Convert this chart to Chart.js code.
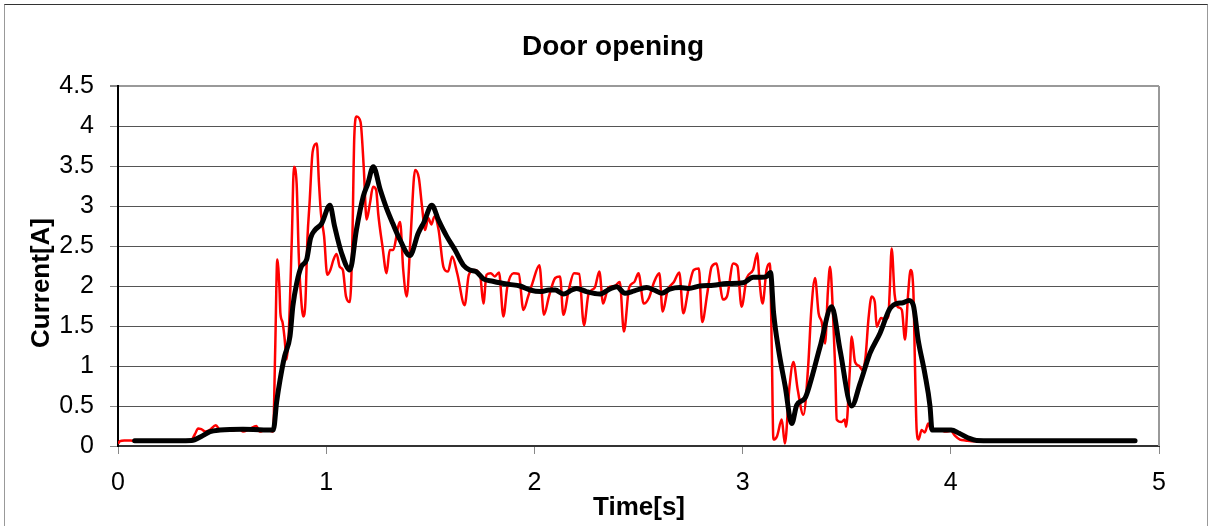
<!DOCTYPE html>
<html>
<head>
<meta charset="utf-8">
<title>Door opening</title>
<script src="https://cdn.jsdelivr.net/npm/chart.js@4.4.1/dist/chart.umd.min.js"></script>
<style>
    html, body { margin: 0; padding: 0; background: #fff; }
    body { width: 1210px; height: 526px; overflow: hidden; position: relative; }
    #moldura { position: absolute; left: 4px; top: 4px; width: 1202px; height: 560px; border: 1px solid #999; border-top-color: #333; }
    #wrap { position: absolute; left: 0; top: 0; width: 1210px; height: 526px; }
</style>
</head>
<body>
<div id="moldura"></div>
<div id="wrap"><canvas id="grafico" width="1210" height="526"></canvas></div>
<script>
// textos
const titulo = 'Door opening';
const tituloX = 'Time[s]';
const tituloY = 'Current[A]';

// sinal bruto (vermelho)
const redTime = [
    0.00, 0.01, 0.03, 0.06, 0.08, 0.15, 0.25, 0.35, 0.37, 0.385, 0.40, 0.42, 0.44, 0.47, 0.49, 0.52, 0.55, 0.58, 0.60, 0.63,
    0.665, 0.68, 0.71, 0.73, 0.745, 0.755, 0.765, 0.775, 0.78, 0.79, 0.80, 0.81, 0.82, 0.835, 0.845, 0.858, 0.868, 0.878, 0.89, 0.90,
    0.91, 0.92, 0.935, 0.955, 0.965, 0.975, 0.99, 1.005, 1.02, 1.035, 1.05, 1.065, 1.08, 1.095, 1.114, 1.125, 1.135, 1.146, 1.165, 1.18,
    1.194, 1.21, 1.225, 1.24, 1.25, 1.27, 1.29, 1.305, 1.32, 1.355, 1.37, 1.387, 1.405, 1.427, 1.445, 1.46, 1.475, 1.49, 1.505, 1.52,
    1.54, 1.563, 1.585, 1.605, 1.63, 1.665, 1.685, 1.71, 1.74, 1.755, 1.77, 1.79, 1.81, 1.83, 1.851, 1.87, 1.90, 1.925, 1.947, 1.97,
    1.99, 2.024, 2.046, 2.07, 2.10, 2.123, 2.139, 2.165, 2.19, 2.215, 2.238, 2.26, 2.29, 2.312, 2.33, 2.355, 2.385, 2.41, 2.43, 2.455,
    2.48, 2.50, 2.525, 2.55, 2.575, 2.60, 2.616, 2.64, 2.67, 2.696, 2.715, 2.74, 2.765, 2.79, 2.806, 2.83, 2.851, 2.875, 2.89, 2.905,
    2.925, 2.955, 2.975, 2.995, 3.02, 3.05, 3.071, 3.08, 3.096, 3.115, 3.131, 3.14, 3.148, 3.165, 3.188, 3.203, 3.225, 3.244, 3.265, 3.292,
    3.315, 3.33, 3.348, 3.365, 3.38, 3.396, 3.41, 3.42, 3.435, 3.445, 3.452, 3.475, 3.49, 3.497, 3.515, 3.524, 3.54, 3.56, 3.575, 3.59,
    3.605, 3.62, 3.635, 3.644, 3.665, 3.685, 3.70, 3.706, 3.716, 3.73, 3.745, 3.765, 3.78, 3.795, 3.807, 3.82, 3.828, 3.836, 3.845, 3.86,
    3.875, 3.892, 3.905, 3.925, 3.95, 3.975, 4.00, 4.02, 4.044, 4.07, 4.10, 4.30, 4.50, 4.70, 4.88
];
const redCurrent = [
    0.03, 0.06, 0.07, 0.07, 0.06, 0.06, 0.06, 0.07, 0.15, 0.22, 0.21, 0.18, 0.20, 0.26, 0.20, 0.21, 0.19, 0.22, 0.18, 0.21,
    0.25, 0.18, 0.20, 0.19, 0.18, 1.20, 2.33, 2.00, 1.66, 1.55, 1.35, 1.08, 1.40, 2.60, 3.49, 3.28, 2.40, 1.90, 1.62, 1.79,
    2.60, 3.03, 3.68, 3.78, 3.30, 2.90, 2.62, 2.14, 2.20, 2.33, 2.40, 2.24, 2.20, 1.87, 1.80, 2.50, 3.87, 4.12, 4.05, 3.50,
    2.83, 3.03, 3.24, 3.20, 2.90, 2.50, 2.16, 2.45, 2.45, 2.80, 2.20, 1.87, 2.60, 3.45, 3.35, 3.00, 2.70, 2.85, 2.77, 2.87,
    2.70, 2.24, 2.18, 2.37, 2.15, 1.76, 2.14, 2.20, 2.12, 1.78, 2.14, 2.16, 2.12, 2.17, 1.62, 1.99, 2.16, 2.15, 1.70, 1.87,
    2.03, 2.26, 1.64, 1.87, 2.10, 2.12, 1.64, 1.95, 2.16, 2.15, 1.51, 1.90, 1.98, 2.18, 1.78, 1.98, 2.00, 2.05, 1.43, 1.98,
    2.05, 2.16, 1.78, 1.85, 2.05, 2.16, 1.68, 1.95, 2.05, 2.17, 1.66, 1.96, 2.20, 2.22, 1.55, 1.90, 2.24, 2.28, 2.05, 1.83,
    1.87, 2.28, 2.25, 1.74, 2.10, 2.20, 2.41, 2.10, 1.78, 2.20, 2.28, 1.24, 0.08, 0.12, 0.33, 0.03, 0.74, 1.05, 0.70, 0.39,
    1.00, 1.70, 2.10, 1.66, 1.55, 1.28, 1.95, 2.24, 1.60, 0.95, 0.33, 0.30, 0.33, 0.24, 0.95, 1.37, 1.05, 1.00, 0.95, 1.10,
    1.60, 1.87, 1.80, 1.49, 1.60, 1.58, 1.62, 1.90, 2.47, 1.90, 1.74, 1.70, 1.33, 1.90, 2.20, 1.95, 1.00, 0.20, 0.08, 0.20,
    0.17, 0.28, 0.20, 0.19, 0.20, 0.18, 0.19, 0.13, 0.08, 0.07, 0.06, 0.06, 0.06, 0.06, 0.06
];

// sinal filtrado (preto)
const blackTime = [
    0.08, 0.20, 0.354, 0.40, 0.442, 0.49, 0.60, 0.70, 0.746, 0.762, 0.778, 0.80, 0.826, 0.84, 0.858, 0.88, 0.906, 0.925, 0.946, 0.978,
    1.018, 1.04, 1.074, 1.114, 1.145, 1.178, 1.20, 1.226, 1.26, 1.29, 1.32, 1.354, 1.402, 1.442, 1.47, 1.507, 1.54, 1.579, 1.619, 1.659,
    1.69, 1.72, 1.755, 1.80, 1.835, 1.88, 1.931, 1.979, 2.03, 2.07, 2.10, 2.139, 2.18, 2.203, 2.25, 2.315, 2.36, 2.395, 2.435, 2.48,
    2.539, 2.575, 2.611, 2.65, 2.699, 2.74, 2.795, 2.86, 2.923, 3.003, 3.051, 3.09, 3.115, 3.134, 3.149, 3.173, 3.205, 3.236, 3.26, 3.30,
    3.324, 3.372, 3.428, 3.468, 3.524, 3.564, 3.612, 3.66, 3.708, 3.74, 3.77, 3.799, 3.82, 3.843, 3.875, 3.90, 3.91, 3.95, 4.002, 4.04,
    4.084, 4.124, 4.30, 4.50, 4.70, 4.885
];
const blackCurrent = [
    0.065, 0.065, 0.07, 0.12, 0.18, 0.20, 0.21, 0.20, 0.20, 0.55, 0.82, 1.12, 1.37, 1.75, 2.03, 2.24, 2.33, 2.60, 2.70, 2.78,
    3.01, 2.75, 2.41, 2.20, 2.70, 3.12, 3.28, 3.49, 3.20, 2.97, 2.78, 2.58, 2.38, 2.66, 2.80, 3.01, 2.82, 2.62, 2.45, 2.26,
    2.20, 2.18, 2.09, 2.06, 2.04, 2.02, 2.00, 1.95, 1.93, 1.95, 1.95, 1.90, 1.95, 1.97, 1.93, 1.90, 1.96, 1.99, 1.91, 1.94,
    1.98, 1.95, 1.91, 1.96, 1.98, 1.97, 2.00, 2.01, 2.03, 2.04, 2.11, 2.11, 2.12, 2.17, 1.66, 1.20, 0.74, 0.28, 0.51, 0.60,
    0.78, 1.24, 1.74, 1.20, 0.50, 0.78, 1.16, 1.41, 1.72, 1.78, 1.79, 1.82, 1.76, 1.33, 0.91, 0.50, 0.20, 0.20, 0.20, 0.16,
    0.10, 0.07, 0.065, 0.065, 0.065, 0.065
];

const fonte = '"Liberation Sans", Arial, sans-serif';

function pontos(xs, ys) {
    return xs.map((x, i) => ({ x: x, y: ys[i] }));
}

// titulos desenhados a mao + borda direita da area do grafico
const extras = {
    id: 'extras',
    beforeDatasetsDraw(chart) {
        const { ctx, chartArea: a } = chart;
        ctx.save();
        ctx.strokeStyle = '#999';
        ctx.lineWidth = 2;
        ctx.beginPath();
        ctx.moveTo(a.right, a.top);
        ctx.lineTo(a.right, a.bottom);
        ctx.stroke();
        ctx.restore();
    },
    afterDraw(chart) {
        const ctx = chart.ctx;
        ctx.save();
        ctx.fillStyle = '#000';
        ctx.textAlign = 'center';
        ctx.textBaseline = 'alphabetic';
        ctx.font = 'bold 28px ' + fonte;
        ctx.fillText(titulo, 613, 55);
        ctx.font = 'bold 26px ' + fonte;
        ctx.fillText(tituloX, 639, 515);
        ctx.translate(49, 283);
        ctx.rotate(-Math.PI / 2);
        ctx.fillText(tituloY, 0, 0);
        ctx.restore();
    }
};

new Chart(document.getElementById('grafico'), {
    type: 'line',
    data: {
        datasets: [
            { label: 'bruto', data: pontos(redTime, redCurrent), borderColor: '#ff0000', borderWidth: 2.5, pointRadius: 0, cubicInterpolationMode: 'monotone', order: 2 },
            { label: 'filtrado', data: pontos(blackTime, blackCurrent), borderColor: '#000000', borderWidth: 5, pointRadius: 0, cubicInterpolationMode: 'monotone', borderCapStyle: 'round', borderJoinStyle: 'round', order: 1 }
        ]
    },
    options: {
        responsive: false,
        animation: false,
        layout: { padding: { top: 86, right: 51, bottom: 0, left: 0 } },
        plugins: { legend: { display: false }, tooltip: { enabled: false }, title: { display: false } },
        scales: {
            x: {
                type: 'linear', min: 0, max: 5,
                ticks: { stepSize: 1, color: '#000', font: { family: fonte, size: 25 }, padding: 14, maxRotation: 0 },
                grid: { drawOnChartArea: false, tickLength: 8, color: '#888' },
                border: { color: '#333', width: 2 },
                afterFit(s) { s.height = 80; }
            },
            y: {
                min: 0, max: 4.5,
                ticks: { stepSize: 0.5, color: '#000', font: { family: fonte, size: 25 }, padding: 16, callback: v => String(v) },
                grid: {
                    tickLength: 8,
                    tickColor: '#888',
                    color: c => (c.tick && c.tick.value === 4.5) ? '#999' : '#555',
                    lineWidth: c => (c.tick && c.tick.value === 4.5) ? 2 : 1
                },
                border: { color: '#000', width: 2 },
                afterFit(s) { s.width = 118; }
            }
        }
    },
    plugins: [extras]
});
</script>
</body>
</html>
